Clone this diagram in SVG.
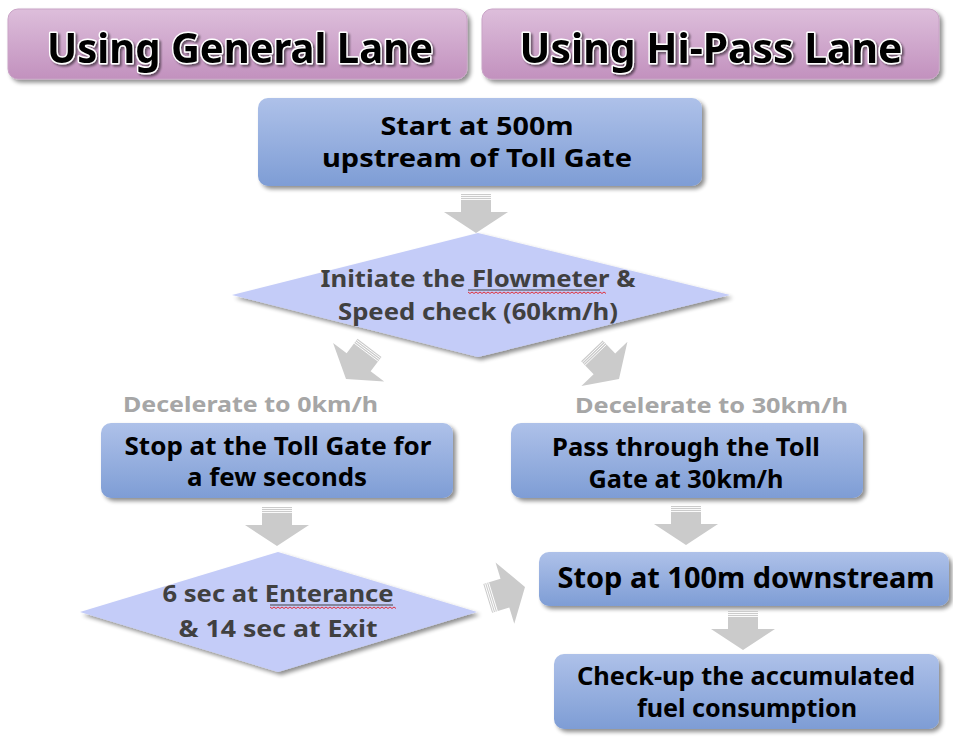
<svg xmlns="http://www.w3.org/2000/svg" width="953" height="742" viewBox="0 0 953 742">
<defs>
  <linearGradient id="gPink" x1="0" y1="0" x2="0" y2="1">
    <stop offset="0" stop-color="#ddbedb"/>
    <stop offset="1" stop-color="#c291be"/>
  </linearGradient>
  <linearGradient id="gBlue" x1="0" y1="0" x2="0" y2="1">
    <stop offset="0" stop-color="#aec1e9"/>
    <stop offset="1" stop-color="#7e9dd5"/>
  </linearGradient>
  <filter id="shadow" x="-10%" y="-20%" width="125%" height="150%">
    <feGaussianBlur in="SourceAlpha" stdDeviation="2.2"/>
    <feOffset dx="3" dy="3" result="b"/>
    <feComponentTransfer><feFuncA type="linear" slope="0.45"/></feComponentTransfer>
    <feMerge><feMergeNode/><feMergeNode in="SourceGraphic"/></feMerge>
  </filter>
  <filter id="tshadow" x="-5%" y="-20%" width="110%" height="150%">
    <feGaussianBlur in="SourceAlpha" stdDeviation="1.2"/>
    <feOffset dx="1.5" dy="2" result="b"/>
    <feComponentTransfer><feFuncA type="linear" slope="0.5"/></feComponentTransfer>
    <feMerge><feMergeNode/><feMergeNode in="SourceGraphic"/></feMerge>
  </filter>
  <g id="arrow">
    <path d="M-15,-39 L15,-39 L15,-21 L32,-21 L0,0 L-32,-21 L-15,-21 Z" fill="#cbcbcb"/>
    <path d="M-15,-37.5 H15 M-15,-35.5 H15 M-15,-33.5 H15" stroke="#ffffff" stroke-width="0.9" fill="none"/>
  </g>
</defs>
<style>
  text { font-family: "Noto Sans", "Open Sans", "DejaVu Sans", sans-serif; font-weight: 700; }
  .hdr { font-size: 42px; fill: #000; stroke: #ffffff; stroke-width: 3px; paint-order: stroke; stroke-linejoin: round; }
  .box { font-size: 25px; fill: #000; }
  .big { font-size: 29px; fill: #000; }
  .dia { font-size: 23px; fill: #404040; }
  .lbl { font-size: 22px; fill: #a6a6a6; }
  .pinkbox { fill: url(#gPink); stroke: #c9a3c6; stroke-width: 1; }
  .bluebox { fill: url(#gBlue); }
  .diamond { fill: #c4ccf8; }
  .ul { stroke: #404040; stroke-width: 1.2; }
  .wave { stroke: #e0303a; stroke-width: 1; fill: none; }
</style>

<g id="header-general">
  <rect class="pinkbox" x="8" y="9" width="459" height="70" rx="10" filter="url(#shadow)"/>
  <text class="hdr" x="240" y="63" text-anchor="middle" textLength="386" lengthAdjust="spacingAndGlyphs" filter="url(#tshadow)">Using General Lane</text>
</g>
<g id="header-hipass">
  <rect class="pinkbox" x="482" y="9" width="457" height="70" rx="10" filter="url(#shadow)"/>
  <text class="hdr" x="711" y="63" text-anchor="middle" textLength="383" lengthAdjust="spacingAndGlyphs" filter="url(#tshadow)">Using Hi-Pass Lane</text>
</g>

<g id="start">
  <rect class="bluebox" x="258" y="98" width="444" height="88" rx="10" filter="url(#shadow)"/>
  <text class="box" x="477" y="135" text-anchor="middle" textLength="193" lengthAdjust="spacingAndGlyphs">Start at 500m</text>
  <text class="box" x="477" y="167" text-anchor="middle" textLength="310" lengthAdjust="spacingAndGlyphs">upstream of Toll Gate</text>
</g>

<g id="decision-flowmeter">
  <polygon class="diamond" points="478,233 730,295 478,357 232,295" filter="url(#shadow)"/>
  <text class="dia" x="478" y="287" text-anchor="middle" textLength="315" lengthAdjust="spacingAndGlyphs">Initiate the Flowmeter &amp;</text>
  <line class="ul" x1="468" y1="290" x2="600" y2="290"/>
  <path class="wave" d="M468,292 l2,1.5 l2,-1.5 l2,1.5 l2,-1.5 l2,1.5 l2,-1.5 l2,1.5 l2,-1.5 l2,1.5 l2,-1.5 l2,1.5 l2,-1.5 l2,1.5 l2,-1.5 l2,1.5 l2,-1.5 l2,1.5 l2,-1.5 l2,1.5 l2,-1.5 l2,1.5 l2,-1.5 l2,1.5 l2,-1.5 l2,1.5 l2,-1.5 l2,1.5 l2,-1.5 l2,1.5 l2,-1.5 l2,1.5 l2,-1.5 l2,1.5 l2,-1.5 l2,1.5 l2,-1.5 l2,1.5 l2,-1.5 l2,1.5 l2,-1.5 l2,1.5 l2,-1.5 l2,1.5 l2,-1.5 l2,1.5 l2,-1.5 l2,1.5 l2,-1.5 l2,1.5 l2,-1.5 l2,1.5 l2,-1.5 l2,1.5 l2,-1.5 l2,1.5 l2,-1.5 l2,1.5 l2,-1.5 l2,1.5 l2,-1.5 l2,1.5 l2,-1.5 l2,1.5 l2,-1.5 l2,1.5 l2,-1.5 l2,1.5 l2,-1.5 l2,1.5"/>
  <text class="dia" x="478" y="320" text-anchor="middle" textLength="280" lengthAdjust="spacingAndGlyphs">Speed check (60km/h)</text>
</g>

<g id="label-decel-0">
  <text class="lbl" x="123" y="412" textLength="255" lengthAdjust="spacingAndGlyphs">Decelerate to 0km/h</text>
</g>
<g id="label-decel-30">
  <text class="lbl" x="575" y="413" textLength="273" lengthAdjust="spacingAndGlyphs">Decelerate to 30km/h</text>
</g>

<g id="stop-tollgate">
  <rect class="bluebox" x="101" y="423" width="352" height="75" rx="10" filter="url(#shadow)"/>
  <text class="box" x="278" y="455" text-anchor="middle" textLength="307" lengthAdjust="spacingAndGlyphs">Stop at the Toll Gate for</text>
  <text class="box" x="277" y="486" text-anchor="middle" textLength="180" lengthAdjust="spacingAndGlyphs">a few seconds</text>
</g>

<g id="pass-tollgate">
  <rect class="bluebox" x="511" y="423" width="352" height="75" rx="10" filter="url(#shadow)"/>
  <text class="box" x="686" y="456" text-anchor="middle" textLength="268" lengthAdjust="spacingAndGlyphs">Pass through the Toll</text>
  <text class="box" x="686" y="488" text-anchor="middle" textLength="195" lengthAdjust="spacingAndGlyphs">Gate at 30km/h</text>
</g>

<g id="decision-wait">
  <polygon class="diamond" points="278,552 477,612 278,672 80,612" filter="url(#shadow)"/>
  <text class="dia" x="278" y="602" text-anchor="middle" textLength="231" lengthAdjust="spacingAndGlyphs">6 sec at Enterance</text>
  <line class="ul" x1="270" y1="605" x2="393" y2="605"/>
  <path class="wave" d="M270,607 l2,1.5 l2,-1.5 l2,1.5 l2,-1.5 l2,1.5 l2,-1.5 l2,1.5 l2,-1.5 l2,1.5 l2,-1.5 l2,1.5 l2,-1.5 l2,1.5 l2,-1.5 l2,1.5 l2,-1.5 l2,1.5 l2,-1.5 l2,1.5 l2,-1.5 l2,1.5 l2,-1.5 l2,1.5 l2,-1.5 l2,1.5 l2,-1.5 l2,1.5 l2,-1.5 l2,1.5 l2,-1.5 l2,1.5 l2,-1.5 l2,1.5 l2,-1.5 l2,1.5 l2,-1.5 l2,1.5 l2,-1.5 l2,1.5 l2,-1.5 l2,1.5 l2,-1.5 l2,1.5 l2,-1.5 l2,1.5 l2,-1.5 l2,1.5 l2,-1.5 l2,1.5 l2,-1.5 l2,1.5 l2,-1.5 l2,1.5 l2,-1.5 l2,1.5 l2,-1.5 l2,1.5 l2,-1.5 l2,1.5 l2,-1.5 l2,1.5 l2,-1.5 l2,1.5"/>
  <text class="dia" x="278" y="637" text-anchor="middle" textLength="199" lengthAdjust="spacingAndGlyphs">&amp; 14 sec at Exit</text>
</g>

<g id="stop-downstream">
  <rect class="bluebox" x="539" y="552" width="410" height="54" rx="10" filter="url(#shadow)"/>
  <text class="big" x="746" y="588" text-anchor="middle" textLength="377" lengthAdjust="spacingAndGlyphs">Stop at 100m downstream</text>
</g>

<g id="check-fuel">
  <rect class="bluebox" x="554" y="654" width="385" height="75" rx="10" filter="url(#shadow)"/>
  <text class="box" x="746" y="685" text-anchor="middle" textLength="338" lengthAdjust="spacingAndGlyphs">Check-up the accumulated</text>
  <text class="box" x="747" y="717" text-anchor="middle" textLength="220" lengthAdjust="spacingAndGlyphs">fuel consumption</text>
</g>

<g id="connectors">
  <use href="#arrow" transform="translate(476,233)"/>
  <use href="#arrow" transform="translate(346,379) rotate(37)"/>
  <use href="#arrow" transform="translate(619,379) rotate(-44)"/>
  <use href="#arrow" transform="translate(277,546)"/>
  <use href="#arrow" transform="translate(686,545)"/>
  <use href="#arrow" transform="translate(743,650)"/>
  <use href="#arrow" transform="translate(525,587) rotate(-107)"/>
</g>
</svg>
